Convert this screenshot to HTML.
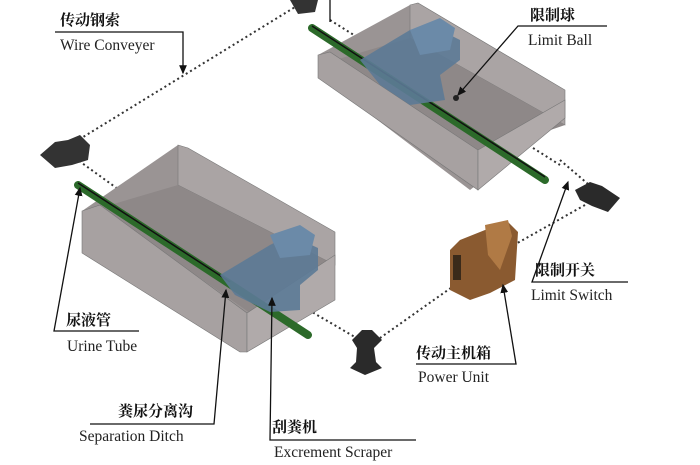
<!DOCTYPE html>
<html><head><meta charset="utf-8"><style>
html,body{margin:0;padding:0;background:#fff;width:700px;height:465px;overflow:hidden}
svg{display:block}
.cn{font-family:"Liberation Serif","Noto Serif CJK SC","Noto Sans CJK SC",serif;font-size:15px;fill:#111;font-weight:bold}
.en{font-family:"Liberation Serif",serif;font-size:15.5px;fill:#222}
.chain{stroke:#333;stroke-width:2;stroke-dasharray:2 3;fill:none}
.ln{stroke:#111;stroke-width:1.3;fill:none}
</style></head><body>
<svg width="700" height="465" viewBox="0 0 700 465">
<defs><marker id="a" markerWidth="8" markerHeight="8" refX="6" refY="4" orient="auto"><path d="M0,1 L7,4 L0,7z" fill="#111"/></marker></defs>

<!-- chains -->
<path class="chain" d="M75,142 L300,4"/>
<path class="chain" d="M75,158 L230,270"/>
<path class="chain" d="M330,20 L560,165"/>
<path class="chain" d="M560,160 L595,190"/>
<path class="chain" d="M585,205 L505,250"/>
<path class="chain" d="M455,285 L380,338"/>
<path class="chain" d="M300,305 L360,340"/>

<!-- upper trough -->
<polygon points="410,5 560,95 560,120 470,190 318,75 318,55" fill="#9a9494"/>
<polygon points="410,5 418,3 565,90 565,125 410,38" fill="#aaa4a4" stroke="#777" stroke-width="0.6"/>
<polygon points="335,60 410,38 565,125 478,155" fill="#8e8888"/>
<polygon points="318,55 330,52 478,150 478,190 318,78" fill="#a7a1a1" stroke="#777" stroke-width="0.6"/>
<polygon points="478,150 565,100 565,118 478,190" fill="#b0aaaa" stroke="#777" stroke-width="0.6"/>
<line x1="312" y1="28" x2="545" y2="180" stroke="#2c6a2a" stroke-width="8" stroke-linecap="round"/>
<line x1="312" y1="26" x2="545" y2="177" stroke="#111" stroke-width="1.5"/>
<polygon points="360,60 410,30 430,25 460,40 460,60 440,75 445,100 410,105 380,85" fill="#5c7a96" opacity="0.9"/>
<polygon points="410,30 440,18 455,28 450,50 420,55" fill="#6b8aa8"/>
<circle cx="456" cy="98" r="3" fill="#222"/>

<!-- lower trough -->
<polygon points="178,145 335,232 335,300 240,352 82,253 82,211" fill="#9a9494"/>
<polygon points="178,145 188,148 335,232 335,265 178,185" fill="#aaa4a4" stroke="#777" stroke-width="0.6"/>
<polygon points="100,208 178,185 335,265 250,313" fill="#8e8888"/>
<polygon points="82,211 100,205 247,313 247,352 240,352 82,253" fill="#a7a1a1" stroke="#777" stroke-width="0.6"/>
<polygon points="247,313 335,255 335,300 247,352" fill="#b0aaaa" stroke="#777" stroke-width="0.6"/>
<line x1="78" y1="185" x2="308" y2="335" stroke="#2c6a2a" stroke-width="8" stroke-linecap="round"/>
<line x1="78" y1="183" x2="230" y2="282" stroke="#111" stroke-width="1.5"/>
<polygon points="220,275 270,245 290,235 318,248 318,270 300,285 300,310 270,312 235,295" fill="#5c7a96" opacity="0.9"/>
<polygon points="270,235 300,225 315,235 310,255 280,258" fill="#6b8aa8"/>

<!-- sprockets / motors -->
<polygon points="40,155 55,142 68,140 80,135 90,145 88,160 72,165 55,168" fill="#333"/>
<polygon points="290,0 318,0 315,12 298,14" fill="#333"/>
<polygon points="575,190 590,182 602,186 620,198 608,212 592,206 580,200" fill="#2a2a2a"/>
<polygon points="352,340 362,330 372,330 382,340 374,348 376,362 382,368 365,375 350,368 356,362 357,348" fill="#2a2a2a"/>
<!-- power unit -->
<polygon points="460,240 485,230 508,222 518,232 515,280 490,293 470,300 450,290 450,250" fill="#8a5a30"/>
<polygon points="485,225 508,220 512,236 500,270 488,255" fill="#b07a45"/>
<rect x="453" y="255" width="8" height="25" fill="#3a2a1a"/>

<!-- leaders -->
<path class="ln" d="M55,32 H183 V73" marker-end="url(#a)"/>
<path class="ln" d="M607,26 H518 L458,95" marker-end="url(#a)"/>
<path class="ln" d="M628,282 H532 L568,182" marker-end="url(#a)"/>
<path class="ln" d="M139,331 H54 L80,188" marker-end="url(#a)"/>
<path class="ln" d="M90,424 H214 L226,290" marker-end="url(#a)"/>
<path class="ln" d="M416,440 H270 L272,298" marker-end="url(#a)"/>
<path class="ln" d="M416,364 H516 L503,285" marker-end="url(#a)"/>
<line class="ln" x1="330" y1="0" x2="330" y2="22"/>

<!-- labels -->
<text class="cn" x="60" y="25">传动钢索</text>
<text class="en" x="60" y="50">Wire Conveyer</text>
<text class="cn" x="530" y="20">限制球</text>
<text class="en" x="528" y="45">Limit Ball</text>
<text class="cn" x="535" y="275">限制开关</text>
<text class="en" x="531" y="300">Limit Switch</text>
<text class="cn" x="66" y="325">尿液管</text>
<text class="en" x="67" y="351">Urine Tube</text>
<text class="cn" x="118" y="416">粪尿分离沟</text>
<text class="en" x="79" y="441">Separation Ditch</text>
<text class="cn" x="272" y="432">刮粪机</text>
<text class="en" x="274" y="457">Excrement Scraper</text>
<text class="cn" x="416" y="358">传动主机箱</text>
<text class="en" x="418" y="382">Power Unit</text>
</svg>
</body></html>
